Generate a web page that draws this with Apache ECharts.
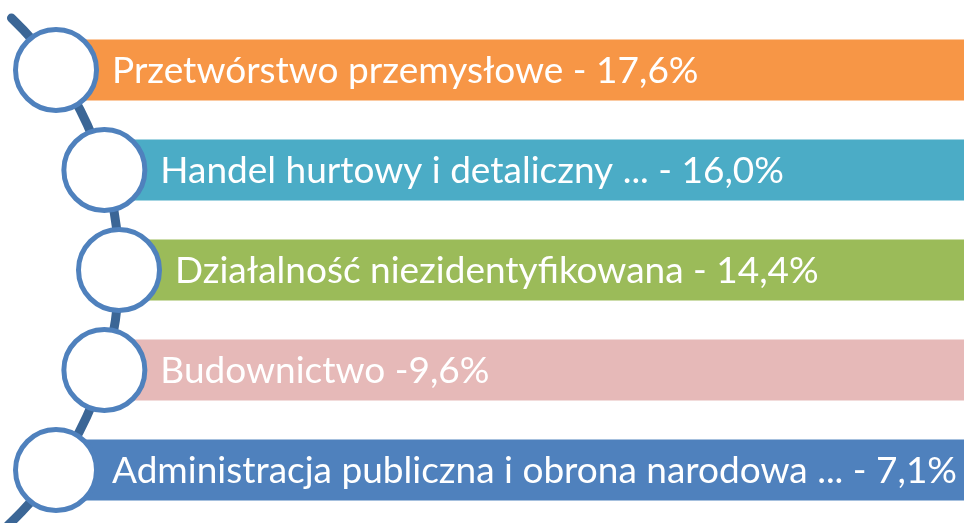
<!DOCTYPE html>
<html>
<head>
<meta charset="utf-8">
<script src="https://cdn.jsdelivr.net/npm/echarts@6/dist/echarts.min.js"></script>
<style>
  html, body { margin: 0; padding: 0; background: #fff; }
  #chart { width: 964px; height: 523px; }
</style>
</head>
<body>
<div id="chart"></div>
<script>
// Sectors and their shares (%)
var sectors = [
  'Przetwórstwo przemysłowe',
  'Handel hurtowy i detaliczny ...',
  'Działalność niezidentyfikowana',
  'Budownictwo',
  'Administracja publiczna i obrona narodowa ...'
];
var shares = [17.6, 16.0, 14.4, 9.6, 7.1];
var separators = [' - ', ' - ', ' - ', ' -', ' - '];
var barColors = ['#F79646', '#4BACC6', '#9BBB59', '#E6B9B8', '#4F81BD'];

// curved spine layout
var spineX = -230;
var spineR = 349;

function fmt(v) {
  return v.toFixed(1).replace('.', ',') + '%';
}

var myChart = echarts.init(document.getElementById('chart'));

function renderItem(params, api) {
  var idx = api.value(0);
  var mid = api.coord([0, Math.floor(sectors.length / 2)]);
  var pt = api.coord([0, idx]);
  var bandH = api.size([0, 1])[1];
  var cy = pt[1];
  var cx = spineX + Math.sqrt(spineR * spineR - Math.pow(cy - mid[1], 2));
  var h = bandH * 0.61;
  var children = [];

  if (idx === 0) {
    var top = 18, bottom = 525;
    children.push({
      type: 'arc',
      shape: {
        cx: spineX, cy: mid[1], r: spineR,
        startAngle: Math.atan2(top - mid[1], Math.sqrt(spineR * spineR - Math.pow(top - mid[1], 2))),
        endAngle: Math.atan2(bottom - mid[1], Math.sqrt(spineR * spineR - Math.pow(bottom - mid[1], 2))),
        clockwise: true
      },
      style: { stroke: '#3B6696', lineWidth: 9, fill: null, lineCap: 'round' }
    });
  }

  children.push({
    type: 'rect',
    shape: { x: cx, y: cy - h / 2, width: api.getWidth() - cx, height: h },
    style: { fill: barColors[idx] }
  });
  children.push({
    type: 'circle',
    shape: { cx: cx, cy: cy, r: 40.5 },
    style: { fill: '#fff', stroke: '#4F81BD', lineWidth: 5 }
  });
  children.push({
    type: 'text',
    style: {
      x: cx + 56, y: cy + 1,
      text: sectors[idx] + separators[idx] + fmt(api.value(1)),
      fill: '#fff',
      font: '37px Lato',
      verticalAlign: 'middle'
    }
  });
  return { type: 'group', children: children };
}

var option = {
  animation: false,
  grid: { left: 0, right: 0, top: 20, bottom: 3 },
  xAxis: { type: 'value', min: 0, max: 1, show: false },
  yAxis: { type: 'category', data: sectors, inverse: true, show: false },
  series: [{
    type: 'custom',
    renderItem: renderItem,
    encode: { x: 1, y: 0 },
    data: shares.map(function (v, i) { return [i, v]; })
  }]
};

myChart.setOption(option);
</script>
</body>
</html>
